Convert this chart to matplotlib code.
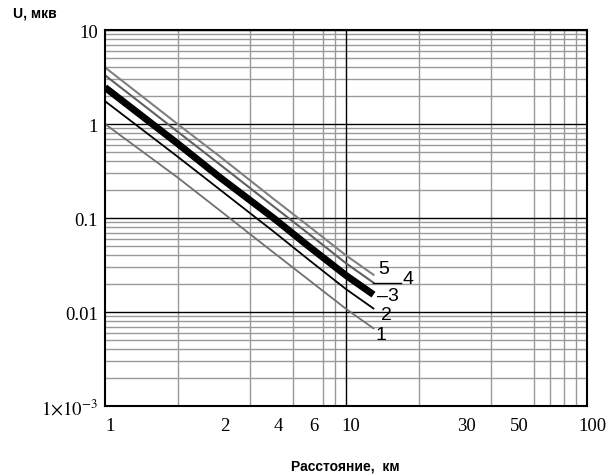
import numpy as np
import matplotlib
matplotlib.use('Agg')
import matplotlib.pyplot as plt
from matplotlib.transforms import ScaledTranslation

# distance, km
dist = [1, 2, 3, 5, 7, 10, 13]
# signal, microvolts (curves 1..5)
u1 = [1.0, 0.27, 0.12, 0.043, 0.022, 0.0108, 0.0067]
u2 = [1.75, 0.45, 0.2, 0.072, 0.036, 0.0175, 0.0109]
u3 = [2.45, 0.62, 0.27, 0.10, 0.05, 0.0245, 0.0153]
u4 = [3.3, 0.83, 0.37, 0.133, 0.068, 0.033, 0.0205]
u5 = [4.0, 1.0, 0.45, 0.16, 0.082, 0.040, 0.0249]

xticks = [1, 3, 5, 7, 10, 30, 50, 100]
xlabels = ['1', '2', '4', '6', '10', '30', '50', '100']
yticks = [1e-3, 0.01, 0.1, 1, 10]
ylabels = [r'$1{\times}10^{-3}$', '0.01', '0.1', '1', '10']

plt.rcParams['mathtext.fontset'] = 'stix'

fig = plt.figure(figsize=(6.08, 4.77), dpi=100)
ax = fig.add_axes([105/608, 1-407/477, 482/608, 376/477])
ax.set_xscale('log')
ax.set_yscale('log')
ax.set_xlim(1, 100)
ax.set_ylim(1e-3, 10)

# grid
ax.grid(True, which='minor', color='#999999', lw=1.0)
ax.grid(True, which='major', axis='y', color='black', lw=1.0)
ax.set_axisbelow(True)
ax.axvline(10, color='black', lw=1.0, zorder=1)
ax.xaxis.set_minor_locator(matplotlib.ticker.LogLocator(base=10, subs=np.arange(2, 10)))
ax.yaxis.set_minor_locator(matplotlib.ticker.LogLocator(base=10, subs=np.arange(2, 10)))
ax.xaxis.set_minor_formatter(matplotlib.ticker.NullFormatter())
ax.yaxis.set_minor_formatter(matplotlib.ticker.NullFormatter())

# curves
ax.plot(dist, u1, color='#707070', lw=1.3)
ax.plot(dist, u2, color='black', lw=1.3)
ax.plot(dist, u3, color='black', lw=5.0, solid_capstyle='butt')
ax.plot(dist, u4, color='#606060', lw=1.5)
ax.plot(dist, u5, color='#808080', lw=1.5)

# curve labels
lab = dict(fontsize=14, family='Liberation Sans', va='center')
ax.text(14.3, 0.0289, '5', ha='center', **lab)
ax.text(18.1, 0.0226, '4', ha='center', **lab)
ax.plot([12.96, 16.9], [0.0205, 0.0205], color='black', lw=1.0)
ax.text(13.5, 0.0149, '\u20133', ha='left', **lab)
ax.text(14.7, 0.0094, '2', ha='center', **lab)
ax.text(13.9, 0.00575, '1', ha='center', **lab)

# ticks
ax.set_xticks(xticks)
ax.set_xticklabels(xlabels, family='Liberation Serif', fontsize=13.5)
ax.set_yticks(yticks)
ax.set_yticklabels(ylabels, family='Liberation Serif', fontsize=13.5)
ax.tick_params(which='both', length=0)
ax.tick_params(axis='x', pad=8)
ax.tick_params(axis='y', pad=5)
off = ScaledTranslation(5/100, 0, fig.dpi_scale_trans)
for t in ax.get_xticklabels():
    t.set_transform(t.get_transform() + off)

for s in ax.spines.values():
    s.set_linewidth(1.5)
    s.set_color('black')

fig.text(13/608, 1-14/477, 'U, мкв', fontsize=10, fontweight='bold',
         family='Liberation Sans', va='center', ha='left')
fig.text(345/608, 1-467/477, 'Расстояние,  км', fontsize=10, fontweight='bold',
         family='Liberation Sans', va='center', ha='center')

fig.savefig('out.png', dpi=100)
